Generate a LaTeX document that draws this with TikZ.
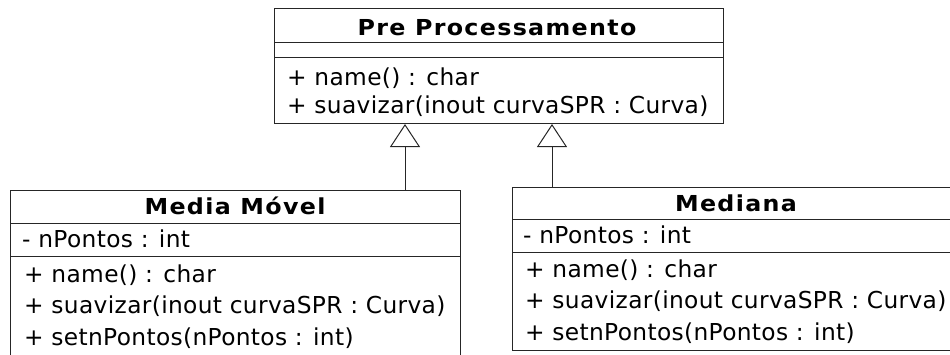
\documentclass[tikz,border=0pt]{standalone}
\usepackage{fontspec}
\setmainfont{DejaVu Sans}
\newfontface\umltitlefont{DejaVu Sans Bold}[FakeStretch=1.08, LetterSpace=6]
\newfontface\umlmemberfont{DejaVu Sans}[LetterSpace=1.5]
\usetikzlibrary{arrows.meta}
\tikzset{
  umlbox/.style={draw=black!85, line width=1pt, rectangle, inner sep=0pt, anchor=north west},
  member/.style={anchor=base west, inner sep=0pt, font=\umlmemberfont\fontsize{23.3}{27}\selectfont},
  title/.style={anchor=base, inner sep=0pt, font=\umltitlefont\fontsize{22}{26}\selectfont},
  sep/.style={draw=black!85, line width=1pt},
  inherit/.style={draw=black!85, line width=1pt, -{Triangle[open, length=23pt, width=30pt, fill=white]}}
}
\begin{document}
\begin{tikzpicture}[x=1pt, y=-1pt]
\useasboundingbox (0,0) rectangle (950,354);

% Superclass
\node[umlbox, minimum width=449pt, minimum height=115pt] (pre) at (274,8) {};
\draw[sep] (274,42) -- (723,42);
\draw[sep] (274,57) -- (723,57);
\node[title] (preT) at (497,35) {Pre Processamento};
\node[member] (preM1) at (287,85) {+ name() : char};
\node[member] (preM2) at (287,113) {+ suavizar(inout curvaSPR : Curva)};

% Moving average subclass
\node[umlbox, minimum width=450pt, minimum height=190pt] (mm) at (10,190) {};
\draw[sep] (10,223) -- (460,223);
\draw[sep] (10,256) -- (460,256);
\node[title] (mmT) at (235,214) {Media Móvel};
\node[member] (mmA) at (22,247) {- nPontos : int};
\node[member] (mmM1) at (24,282) {+ name() : char};
\node[member] (mmM2) at (24,313) {+ suavizar(inout curvaSPR : Curva)};
\node[member] (mmM3) at (24,345) {+ setnPontos(nPontos : int)};

% Median subclass
\node[umlbox, minimum width=452pt, minimum height=163pt] (md) at (512,187) {};
\draw[sep] (512,219) -- (964,219);
\draw[sep] (512,252) -- (964,252);
\node[title] (mdT) at (736,211) {Mediana};
\node[member] (mdA) at (523,243) {- nPontos : int};
\node[member] (mdM1) at (525,277) {+ name() : char};
\node[member] (mdM2) at (525,308) {+ suavizar(inout curvaSPR : Curva)};
\node[member] (mdM3) at (525,340) {+ setnPontos(nPontos : int)};

% Generalisations
\draw[inherit] (mm.north -| 405,0) -- (pre.south -| 405,0);
\draw[inherit] (md.north -| 552,0) -- (pre.south -| 552,0);
\end{tikzpicture}
\end{document}
